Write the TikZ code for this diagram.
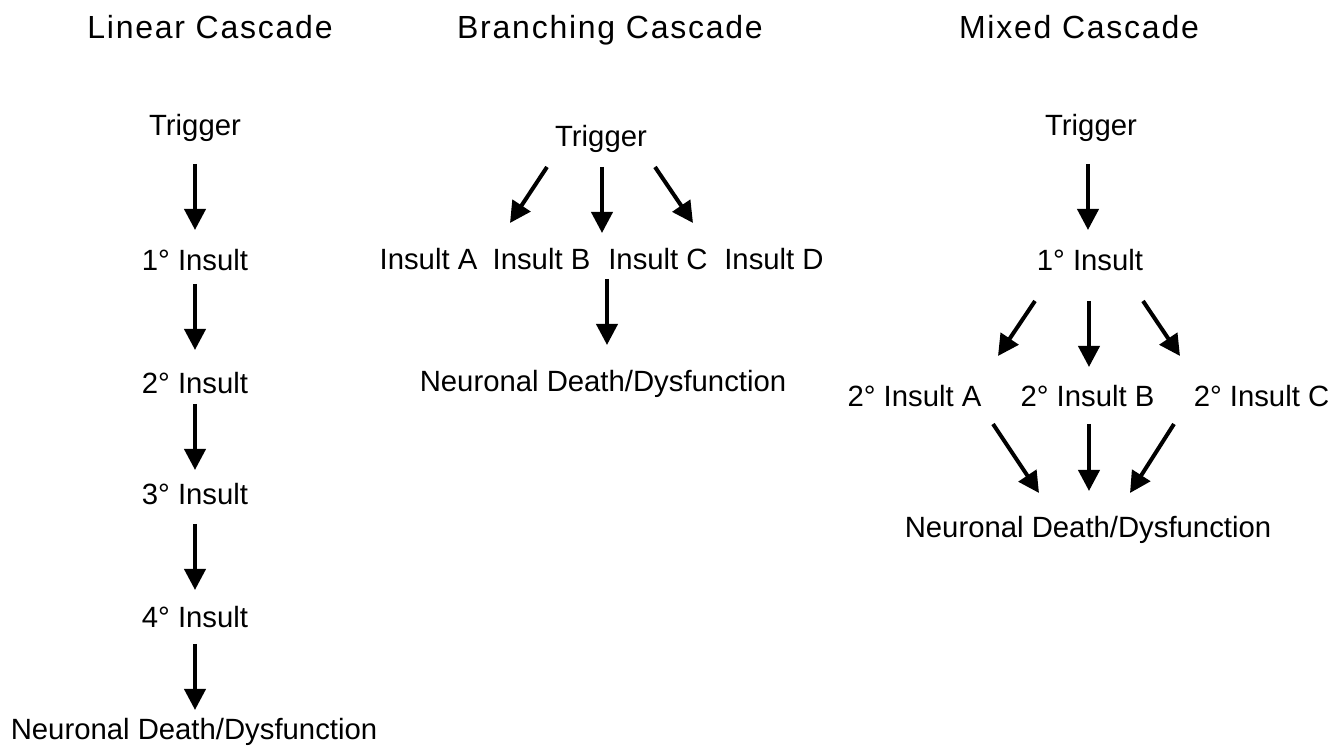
\documentclass[tikz,border=0pt]{standalone}
\usepackage{fontspec}
\setmainfont{Liberation Sans}
\usetikzlibrary{arrows.meta}

\begin{document}
\begin{tikzpicture}[x=0.5pt, y=-0.5pt,
  lbl/.style={anchor=base, inner sep=0pt, font=\fontsize{14.65}{17}\selectfont},
  ttl/.style={anchor=base, inner sep=0pt, font=\fontsize{16}{19}\selectfont\addfontfeature{LetterSpace=5.5}},
  arr/.style={line width=2pt, -{Triangle[width=10.5pt, length=10.5pt]}}]
  \useasboundingbox (0,0) rectangle (1335,753);

  % titles
  \node[ttl] (tLin) at (210,39) {Linear Cascade};
  \node[ttl] (tBr) at (610,39) {Branching Cascade};
  \node[ttl] (tMix) at (1079,39) {Mixed Cascade};

  % linear cascade
  \node[lbl] (lTrig) at (195,136) {Trigger};
  \node[lbl] (lOne) at (195,271) {1° Insult};
  \node[lbl] (lTwo) at (195,394) {2° Insult};
  \node[lbl] (lThree) at (195,505) {3° Insult};
  \node[lbl] (lFour) at (195,628) {4° Insult};
  \node[lbl] (lEnd) at (194,740) {Neuronal Death/Dysfunction};

  \draw[arr] ([shift={(0,28)}]lTrig.base) -- ([shift={(0,-41)}]lOne.base);
  \draw[arr] ([shift={(0,13)}]lOne.base) -- ([shift={(0,-44)}]lTwo.base);
  \draw[arr] ([shift={(0,10)}]lTwo.base) -- ([shift={(0,-35)}]lThree.base);
  \draw[arr] ([shift={(0,19)}]lThree.base) -- ([shift={(0,-38)}]lFour.base);
  \draw[arr] ([shift={(0,16)}]lFour.base) -- ([shift={(1,-30)}]lEnd.base);

  % branching cascade
  \node[lbl] (bTrig) at (601,147) {Trigger};
  \node[lbl] (bA) at (428.5,270) {Insult A};
  \node[lbl] (bB) at (541.5,270) {Insult B};
  \node[lbl] (bC) at (658,270) {Insult C};
  \node[lbl] (bD) at (774,270) {Insult D};
  \node[lbl] (bEnd) at (603,392) {Neuronal Death/Dysfunction};

  \draw[arr] ([shift={(-54,20)}]bTrig.base) -- ([shift={(81.5,-47)}]bA.base);
  \draw[arr] ([shift={(1,20)}]bTrig.base) -- ([shift={(60.5,-37)}]bB.base);
  \draw[arr] ([shift={(54,20)}]bTrig.base) -- ([shift={(35,-47)}]bC.base);
  \draw[arr] ([shift={(-51,9)}]bC.base) -- ([shift={(4,-47)}]bEnd.base);

  % mixed cascade
  \node[lbl] (mTrig) at (1091,136) {Trigger};
  \node[lbl] (mOne) at (1090,271) {1° Insult};
  \node[lbl] (mA) at (914.5,407) {2° Insult A};
  \node[lbl] (mB) at (1087.5,407) {2° Insult B};
  \node[lbl] (mC) at (1261.5,407) {2° Insult C};
  \node[lbl] (mEnd) at (1088,538) {Neuronal Death/Dysfunction};

  \draw[arr] ([shift={(-3,28)}]mTrig.base) -- ([shift={(-2,-41)}]mOne.base);

  \draw[arr] ([shift={(-55,30)}]mOne.base) -- ([shift={(83.5,-51)}]mA.base);
  \draw[arr] ([shift={(-1,30)}]mOne.base) -- ([shift={(1.5,-40)}]mB.base);
  \draw[arr] ([shift={(53,30)}]mOne.base) -- ([shift={(-81.5,-51)}]mC.base);

  \draw[arr] ([shift={(78.5,17)}]mA.base) -- ([shift={(-49,-45)}]mEnd.base);
  \draw[arr] ([shift={(1.5,17)}]mB.base) -- ([shift={(1,-47)}]mEnd.base);
  \draw[arr] ([shift={(-87.5,17)}]mC.base) -- ([shift={(42,-45)}]mEnd.base);
\end{tikzpicture}
\end{document}
